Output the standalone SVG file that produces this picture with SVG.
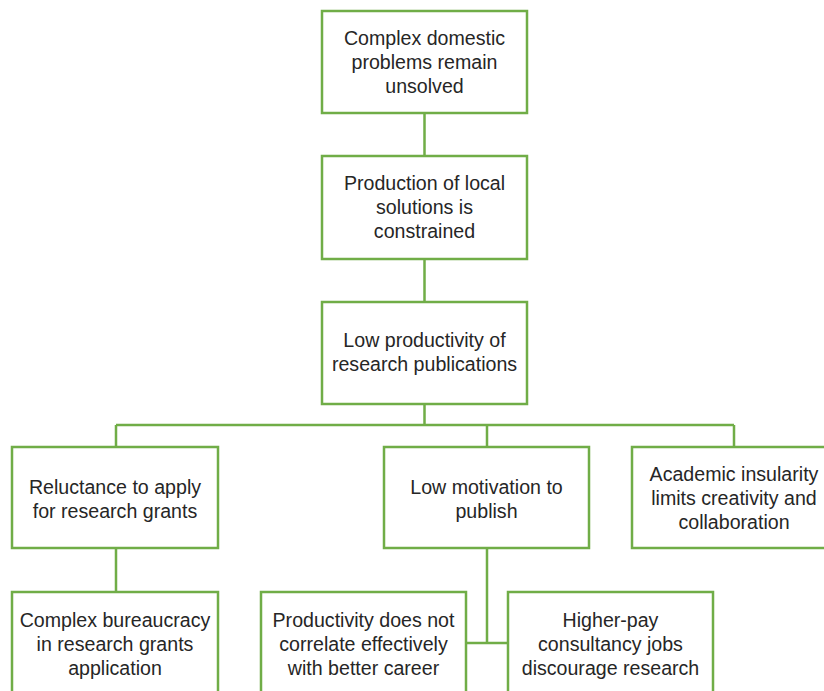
<svg xmlns="http://www.w3.org/2000/svg" width="824" height="691" viewBox="0 0 824 691">
<style>
.box{fill:#fff;stroke:#70AD47;stroke-width:2.5}
.ln{fill:none;stroke:#70AD47;stroke-width:2.5}
text{font-family:"Liberation Sans",Arial,sans-serif;font-size:19.6px;fill:#262626;text-anchor:middle}
</style>
<rect width="824" height="691" fill="#fff"/>
<g id="connectors">
<path class="ln" d="M424.5 113V156M424.5 259V302M424.5 404V425M116 425H734M116 425V447M487 425V447M734 425V447M116 548V592M487 548V643M466 643H508"/>
</g>
<g id="n1"><rect class="box" x="322" y="11" width="205" height="102"/>
<text x="424.5" y="45">Complex domestic</text><text x="424.5" y="69">problems remain</text><text x="424.5" y="93">unsolved</text></g>
<g id="n2"><rect class="box" x="322" y="156" width="205" height="103"/>
<text x="424.5" y="190">Production of local</text><text x="424.5" y="214">solutions is</text><text x="424.5" y="238">constrained</text></g>
<g id="n3"><rect class="box" x="322" y="302" width="205" height="102"/>
<text x="424.5" y="347">Low productivity of</text><text x="424.5" y="371">research publications</text></g>
<g id="n4"><rect class="box" x="12" y="447" width="206" height="101"/>
<text x="115" y="494">Reluctance to apply</text><text x="115" y="518">for research grants</text></g>
<g id="n5"><rect class="box" x="384" y="447" width="205" height="101"/>
<text x="486.5" y="494">Low motivation to</text><text x="486.5" y="518">publish</text></g>
<g id="n6"><rect class="box" x="632" y="447" width="205" height="101"/>
<text x="734" y="481">Academic insularity</text><text x="734" y="505">limits creativity and</text><text x="734" y="529">collaboration</text></g>
<g id="n7"><rect class="box" x="12" y="592" width="206" height="102"/>
<text x="115" y="627">Complex bureaucracy</text><text x="115" y="651">in research grants</text><text x="115" y="675">application</text></g>
<g id="n8"><rect class="box" x="261" y="592" width="205" height="102"/>
<text x="363.5" y="627">Productivity does not</text><text x="363.5" y="651">correlate effectively</text><text x="363.5" y="675">with better career</text></g>
<g id="n9"><rect class="box" x="508" y="592" width="205" height="102"/>
<text x="610.5" y="627">Higher-pay</text><text x="610.5" y="651">consultancy jobs</text><text x="610.5" y="675">discourage research</text></g>
</svg>
